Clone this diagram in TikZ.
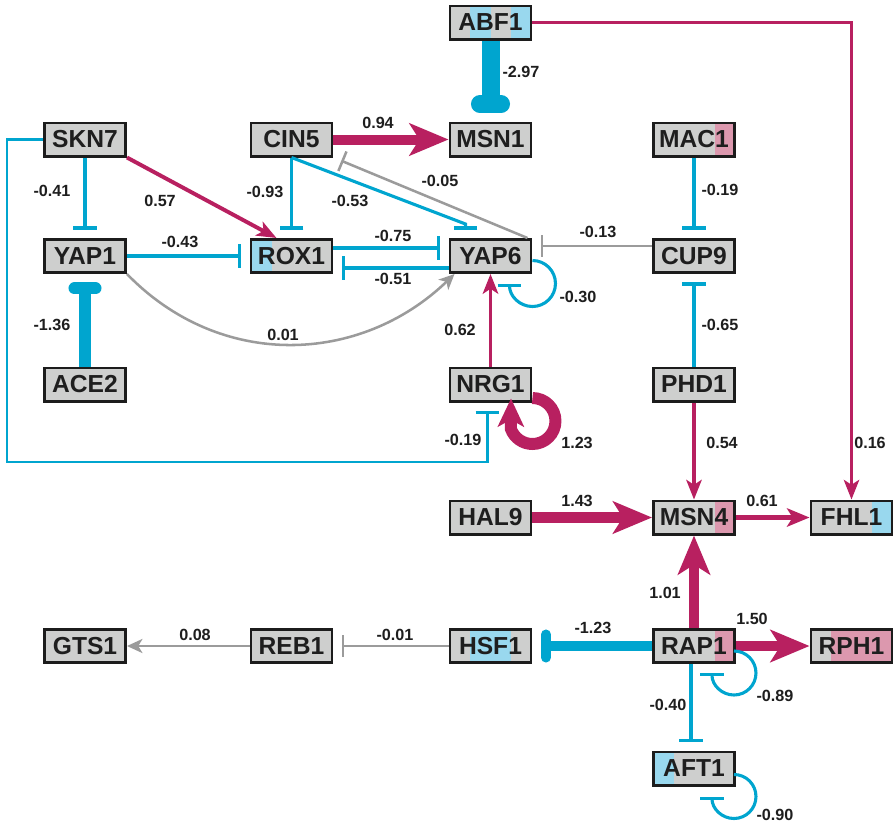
\documentclass[tikz,border=0pt]{standalone}
\usepackage{fontspec}
\setmainfont{Liberation Sans}
\usepackage{tikz}
\usetikzlibrary{arrows.meta,calc}
\usepackage{xcolor}
\definecolor{boxgray}{RGB}{206,207,206}
\definecolor{boxline}{RGB}{28,28,28}
\definecolor{textdark}{RGB}{30,30,30}
\definecolor{partblue}{RGB}{153,216,238}
\definecolor{partpink}{RGB}{220,152,174}
\definecolor{actred}{RGB}{184,32,96}
\definecolor{inhblue}{RGB}{0,165,207}
\definecolor{weakgray}{RGB}{155,155,155}
\newcommand{\genepart}[3]{\fill[#1] ($(path picture bounding box.south west)!#2!(path picture bounding box.south east)$) rectangle ($(path picture bounding box.north west)!#3!(path picture bounding box.north east)$);}

\begin{document}
\begin{tikzpicture}[x=0.025cm,y=0.025cm,
  gene/.style={draw=boxline,line width=2.1pt,fill=boxgray,minimum width=57.6pt,minimum height=23.5pt,inner sep=0pt,font=\bfseries\fontsize{17.5}{18}\selectfont,text=textdark},
  wlabel/.style={font=\bfseries\fontsize{11.5}{12}\selectfont,inner sep=0pt,text=textdark},
  activ/.style={draw=actred,line width=#1,-{Stealth[length=14pt,width=11pt,inset=3.5pt]}},
  activ/.default=2.2pt,
  activbig/.style={draw=actred,line width=#1,-{Stealth[length=27.7pt,width=22.8pt,inset=7pt]}},
  activbig/.default=7.5pt,
  repr/.style={draw=inhblue,line width=2.2pt,-{Bar[width=17pt]},shorten >=6pt},
  reprbig/.style={draw=inhblue,line width=#1,-{Bar[width=15pt,round]},shorten >=6pt},
  selfrepr/.style={draw=inhblue,line width=2.2pt,-{Bar[width=17pt]}},
  weakact/.style={draw=weakgray,line width=1.8pt,-{Stealth[length=11pt,width=10pt,inset=3pt]}},
  weakrep/.style={draw=weakgray,line width=1.8pt,-{Bar[width=15pt]},shorten >=6pt}]
\useasboundingbox (0,0) rectangle (896,-825);

\node[gene,path picture={\genepart{partblue}{.25}{.5}\genepart{partblue}{.75}{1}}] (ABF1) at (490.5,-22.5) {ABF1};
\node[gene] (SKN7) at (85,-139.5) {SKN7};
\node[gene] (CIN5) at (291.5,-139.5) {CIN5};
\node[gene] (MSN1) at (490.5,-139.5) {MSN1};
\node[gene,path picture={\genepart{partpink}{.76}{1}}] (MAC1) at (694,-139.5) {MAC1};
\node[gene] (YAP1) at (85,-256) {YAP1};
\node[gene,path picture={\genepart{partblue}{0}{.26}}] (ROX1) at (291.5,-256) {ROX1};
\node[gene] (YAP6) at (490.5,-256) {YAP6};
\node[gene] (CUP9) at (694,-256) {CUP9};
\node[gene] (ACE2) at (85,-384.5) {ACE2};
\node[gene] (NRG1) at (490.5,-384.5) {NRG1};
\node[gene] (PHD1) at (694,-384.5) {PHD1};
\node[gene] (HAL9) at (490.5,-517.5) {HAL9};
\node[gene,path picture={\genepart{partpink}{.76}{1}}] (MSN4) at (694,-517.5) {MSN4};
\node[gene,path picture={\genepart{partblue}{.75}{1}}] (FHL1) at (851.5,-517.5) {FHL1};
\node[gene] (GTS1) at (85,-646) {GTS1};
\node[gene] (REB1) at (291.5,-646) {REB1};
\node[gene,path picture={\genepart{partblue}{.25}{.75}}] (HSF1) at (490.5,-646) {HSF1};
\node[gene,path picture={\genepart{partpink}{.76}{1}}] (RAP1) at (694,-646) {RAP1};
\node[gene,path picture={\genepart{partpink}{.25}{1}}] (RPH1) at (851.5,-646) {RPH1};
\node[gene,path picture={\genepart{partblue}{0}{.25}}] (AFT1) at (694,-768.5) {AFT1};

\coordinate (sknturn) at (7,-462);

\draw[reprbig=12.8pt] (ABF1.south) -- (MSN1.north);
\draw[activbig=7.1pt] (CIN5.east) -- (MSN1.west);
\draw[activ=2.8pt] (SKN7.south east) -- ($(ROX1.north)+(-15,0)$);
\draw[repr] (SKN7.south) -- (YAP1.north);
\draw[repr,line width=1.9pt] (SKN7.west) -| (sknturn) -| ($(NRG1.south)+(-3,0)$);
\draw[repr] (CIN5.south) -- (ROX1.north);
\draw[repr] (CIN5.south) -- ($(YAP6.north)+(-25,14)$) -- ($(YAP6.north)+(-25,0)$);
\draw[weakrep] ($(YAP6.north east)+(-5,0)$) -- (CIN5.south east);
\draw[repr] (YAP1.east) -- (ROX1.west);
\draw[repr] ($(ROX1.east)+(0,8)$) -- ($(YAP6.west)+(0,8)$);
\draw[repr] ($(YAP6.west)+(0,-12)$) -- ($(ROX1.east)+(0,-12)$);
\draw[weakact] (YAP1.south east) .. controls (220,-370) and (360,-365) .. ($(YAP6.south west)+(6,0)$);
\draw[selfrepr] ($(YAP6.east)+(0,-4.5)$) arc[start angle=90,end angle=-180,radius=23];
\draw[activ=2.5pt] (NRG1.north) -- (YAP6.south);
\draw[activbig=8.5pt,-{Stealth[length=20pt,width=18.5pt,inset=5pt]}] ($(NRG1.east)+(0,-13.5)$) arc[start angle=90,end angle=-160,radius=23] -- ($(NRG1.south)+(20.5,4)$);
\draw[weakrep] ($(CUP9.west)+(0,10)$) -- ($(YAP6.east)+(0,10)$);
\draw[repr] (MAC1.south) -- (CUP9.north);
\draw[repr] (PHD1.north) -- (CUP9.south);
\draw[activ] (PHD1.south) -- (MSN4.north);
\draw[activ=1.9pt] (ABF1.east) -| (FHL1.north);
\draw[activbig=8.5pt] (HAL9.east) -- (MSN4.west);
\draw[activ=3.5pt,-{Stealth[length=16pt,width=13pt,inset=4pt]}] (MSN4.east) -- (FHL1.west);
\draw[activbig=7.5pt] (RAP1.north) -- (MSN4.south);
\draw[activbig=7.8pt] (RAP1.east) -- (RPH1.west);
\draw[reprbig=7.1pt,-{Bar[width=16.4pt,round]}] (RAP1.west) -- (HSF1.east);
\draw[selfrepr] ($(RAP1.east)+(-2,-5)$) arc[start angle=90,end angle=-180,radius=22];
\draw[repr] ($(RAP1.south)+(-3,0)$) -- ($(AFT1.north)+(-3,0)$);
\draw[selfrepr] ($(AFT1.east)+(-2,-6)$) arc[start angle=90,end angle=-180,radius=22];
\draw[weakrep] (HSF1.west) -- (REB1.east);
\draw[weakact] (REB1.west) -- (GTS1.east);
\draw[reprbig=8.5pt] (ACE2.north) -- (YAP1.south);

\node[wlabel] (wABF1MSN1) at (521,-72) {-2.97};
\node[wlabel] (wCIN5MSN1) at (378,-123) {0.94};
\node[wlabel] (wSKN7ROX1) at (160,-201) {0.57};
\node[wlabel] (wSKN7YAP1) at (52,-191) {-0.41};
\node[wlabel] (wSKN7NRG1) at (463,-440) {-0.19};
\node[wlabel] (wCIN5ROX1) at (265,-192) {-0.93};
\node[wlabel] (wCIN5YAP6) at (350,-201) {-0.53};
\node[wlabel] (wYAP6CIN5) at (440,-181) {-0.05};
\node[wlabel] (wYAP1ROX1) at (180,-242) {-0.43};
\node[wlabel] (wROX1YAP6) at (393,-236) {-0.75};
\node[wlabel] (wYAP6ROX1) at (393,-279) {-0.51};
\node[wlabel] (wYAP1YAP6) at (283,-335) {0.01};
\node[wlabel] (wYAP6YAP6) at (578,-297) {-0.30};
\node[wlabel] (wNRG1YAP6) at (460,-330) {0.62};
\node[wlabel] (wNRG1NRG1) at (577,-443) {1.23};
\node[wlabel] (wCUP9YAP6) at (598,-232) {-0.13};
\node[wlabel] (wMAC1CUP9) at (720,-190) {-0.19};
\node[wlabel] (wPHD1CUP9) at (720,-325) {-0.65};
\node[wlabel] (wPHD1MSN4) at (722,-443) {0.54};
\node[wlabel] (wABF1FHL1) at (870,-443) {0.16};
\node[wlabel] (wHAL9MSN4) at (577,-501) {1.43};
\node[wlabel] (wMSN4FHL1) at (762,-501) {0.61};
\node[wlabel] (wRAP1MSN4) at (665,-593) {1.01};
\node[wlabel] (wRAP1RPH1) at (752,-619) {1.50};
\node[wlabel] (wRAP1HSF1) at (593,-628) {-1.23};
\node[wlabel] (wRAP1RAP1) at (775,-696) {-0.89};
\node[wlabel] (wRAP1AFT1) at (668,-705) {-0.40};
\node[wlabel] (wAFT1AFT1) at (775,-815) {-0.90};
\node[wlabel] (wHSF1REB1) at (395,-635) {-0.01};
\node[wlabel] (wREB1GTS1) at (195,-635) {0.08};
\node[wlabel] (wACE2YAP1) at (52,-325) {-1.36};
\end{tikzpicture}
\end{document}
